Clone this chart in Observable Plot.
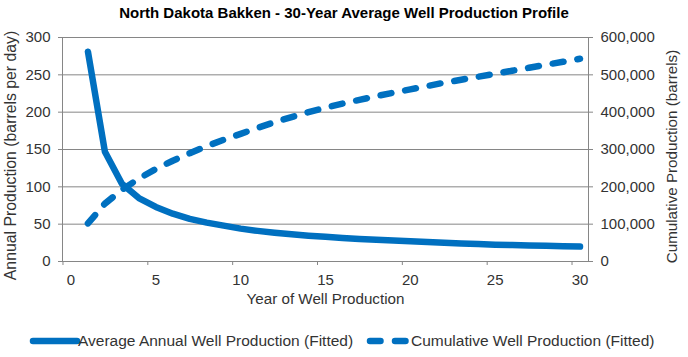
<!DOCTYPE html>
<html><head><meta charset="utf-8">
<script src="https://cdn.jsdelivr.net/npm/d3@7"></script>
<script src="https://cdn.jsdelivr.net/npm/@observablehq/plot@0.6"></script>
<style>
body{margin:0;background:#fff;font-family:"Liberation Sans",Arial,sans-serif;}
#wrap{width:688px;height:357px;position:relative;overflow:hidden;background:#fff}
#title{height:25px;line-height:25px;text-align:center;font-weight:bold;font-size:15px;color:#000;}
#chart{position:absolute;top:25px;left:0}
.leg{position:absolute;font-size:15.5px;color:#333;line-height:20px;top:331px;white-space:nowrap}
.sw{position:absolute;top:331px}
</style></head>
<body><div id="wrap">
<div id="title">North Dakota Bakken - 30-Year Average Well Production Profile</div>
<div id="chart"></div>
<svg class="sw" style="left:28px" width="54" height="20"><line x1="5" y1="10" x2="49" y2="10" stroke="#0070c0" stroke-width="6.5" stroke-linecap="round"/></svg>
<div class="leg" style="left:78px">Average Annual Well Production (Fitted)</div>
<svg class="sw" style="left:361px" width="54" height="20"><line x1="9" y1="10" x2="44.5" y2="10" stroke="#0070c0" stroke-width="6.5" stroke-linecap="round" stroke-dasharray="10.5 14.5"/></svg>
<div class="leg" style="left:411px">Cumulative Well Production (Fitted)</div>
</div>
<script>
const years = [1,2,3,4,5,6,7,8,9,10,11,12,13,14,15,16,17,18,19,20,21,22,23,24,25,26,27,28,29,30];
const annual = [281,147,104,85,73,64,57,52,48,44,41,38.5,36.5,34.5,33,31.5,30,29,28,27,26,25,24,23.5,22.5,22,21.5,21,20.5,20];
const cumulative = [102000,155000,192000,222000,248000,270000,290000,309000,326000,342000,358000,373000,387000,400000,412000,423000,433000,443000,452000,461000,470000,479000,487000,495000,503000,511000,519000,527000,535000,543000];
const xTicks = [0,5,10,15,20,25,30];
const leftTicks = [0,50,100,150,200,250,300];
const rightTicks = [0,100000,200000,300000,400000,500000,600000];
const ratio = 2000; // right axis units per left axis unit
const blue = "#0070c0";
const grid = "#868686";
const data = years.map((y,i)=>({year:y, annual:annual[i], cum:cumulative[i]}));

const chart = Plot.plot({
  width: 688, height: 300,
  marginLeft: 62, marginRight: 100, marginTop: 12, marginBottom: 64,
  x: {domain: [-0.5, 30.5]},
  y: {domain: [0, 300]},
  style: {fontFamily: "Liberation Sans, Arial, sans-serif", fontSize: "15px", color: "#333", background: "white", overflow: "visible"},
  marks: [
    Plot.gridY({ticks: leftTicks, stroke: grid, strokeOpacity: 1}),
    Plot.frame({stroke: grid}),
    Plot.axisY({ticks: leftTicks, anchor: "left", tickSize: 4, tickPadding: 8, stroke: grid, label: null}),
    Plot.axisY({ticks: rightTicks.map(v => v / ratio), anchor: "right", tickSize: 4, tickPadding: 8, stroke: grid, label: null,
      tickFormat: d => d3.format(",")(d * ratio)}),
    Plot.axisX({ticks: xTicks, tickSize: 0, tickPadding: 13, label: null}),
    Plot.axisX({ticks: xTicks, tickSize: 4, tickFormat: () => "", dx: -8, stroke: grid, label: null}),
    Plot.line(data, {x: "year", y: "annual", stroke: blue, strokeWidth: 6.5, strokeLinecap: "round", strokeLinejoin: "round"}),
    Plot.line(data, {x: "year", y: d => d.cum / ratio, stroke: blue, strokeWidth: 6.5, strokeLinecap: "round", strokeDasharray: "11 14"}),
    Plot.text(["Annual Production (barrels per day)"], {frameAnchor: "left", textAnchor: "middle", rotate: -90, dx: -52, dy: 6, fill: "#333", fontSize: 15.8}),
    Plot.text(["Cumulative Production (barrels)"], {frameAnchor: "right", textAnchor: "middle", rotate: -90, dx: 84, dy: 7, fill: "#333", fontSize: 15.2}),
    Plot.text(["Year of Well Production"], {frameAnchor: "bottom", dy: 42, fill: "#333", fontSize: 15.2})
  ]
});
document.getElementById("chart").appendChild(chart);
</script>
</body></html>
